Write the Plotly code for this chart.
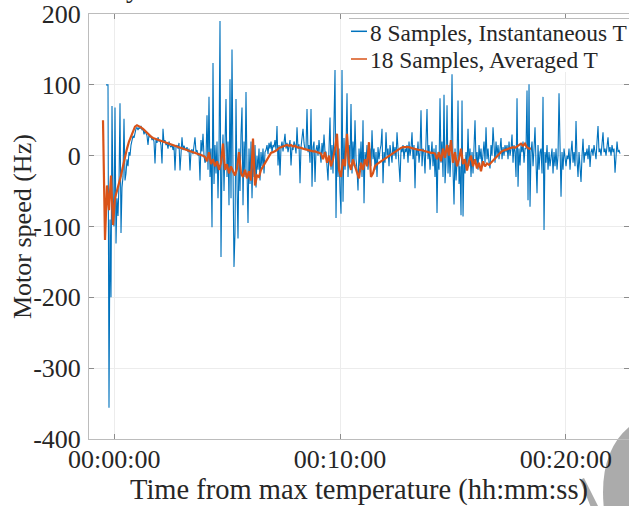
import plotly.graph_objects as go

# ---------------- data ----------------
# time axis in minutes from max temperature
BLUE_START_MIN = -0.3676
BLUE_STEP_MIN = 0.04429      # ~2.66 s between samples
blue_speed_hz = [
    100, 100, 100, -356, -90, -200, 70, -60, -100, 68, -124, -60, -85, -40, 74, -109, -45, -30, 52, -35,
    -25, -5, -15, 5, 0, 15, 20, 28, 25, 35, 38, 40, 36, 40, 38, 42, 36, 38, 30, 35,
    32, 28, 15, 30, 26, 28, 22, 25, 20, -11, 24, 18, 26, 20, 22, 15, -11, 38, 18, 22,
    15, 18, 10, 20, 14, 12, 16, 8, 14, -21, 12, 15, 10, 18, -21, 12, 26, 8, 14, 10,
    8, 12, 5, 10, -21, 6, 9, 2, 12, 26, 5, 8, 0, 4, -35, 22, 6, 31, 0, -10,
    -5, 57, -20, 83, -30, 10, -101, 131, -40, 15, -25, 20, -60, 5, 190, -143, -10, 30, -50, 10,
    80, -30, 20, -70, 108, -60, 150, -20, -157, -109, 80, -40, -117, 10, -50, 30, 68, -70, 20, -30,
    90, -20, -95, 10, -40, 20, -60, 5, -30, 15, -45, 0, -20, 10, -35, 5, -15, 10, -25, 5,
    8, 15, 2, 18, 10, 20, 5, 15, 12, 22, 8, 42, -14, 15, -28, 12, 20, 6, 18, 31,
    10, 18, 5, 14, 22, -14, 12, 8, 20, 15, 3, 40, 10, 16, -39, 12, 28, 38, 18, 8,
    10, 66, 5, 15, -10, 66, -44, 12, 20, -37, 8, 15, 0, 22, 5, -10, 18, 2, 30, 5,
    5, -15, -35, 10, 54, -20, 15, -25, 30, 121, -88, 20, -30, 10, -50, -82, 121, -65, 25, -20,
    10, 88, -30, 15, -10, 73, -25, 20, -15, 50, -5, -20, -49, 10, -15, 20, -30, 50, -67, 5,
    -10, 15, -20, 5, 10, -15, 36, -5, 10, -20, 5, -30, 12, -5, 8, 15, 38, -39, 5, -10,
    33, 0, 10, -15, 15, 5, -10, 20, 0, 12, -5, 33, 8, -10, -37, 10, 5, 15, -5, 10,
    5, 15, -10, 20, 0, 10, 33, -5, 15, -46, 10, 0, 20, -10, 5, 64, -15, 10, 5, -25,
    10, 66, -5, 15, -20, 5, 20, -15, 10, -30, 15, -81, 5, -20, 81, -10, 20, -30, 86, -39,
    -10, 71, -25, 15, -30, 5, 115, -20, -69, 10, -35, -10, 78, -40, -15, -84, 78, -86, -5, -25,
    5, -20, 38, -15, 10, -30, 5, -25, 20, 50, -10, 5, -20, 15, -5, 10, -15, 5, 20, -10,
    40, -5, 10, -10, -18, 15, 0, 40, 5, -10, 20, 0, 15, -5, 10, 25, -5, 12, 0, 15,
    5, 15, -5, 20, 0, 10, 30, -10, 15, 5, -30, 81, -44, 10, -14, 15, 5, 20, -10, 10,
    10, 92, -63, 101, -72, 5, 20, -15, 10, 40, -10, -53, 15, -20, 5, 10, -25, 83, -105, 5,
    -10, 15, -20, 5, -15, 0, 10, -25, 5, -15, 10, -20, 0, 88, -10, -58, 5, -20, 10, -10,
    -15, 0, -5, 10, -20, 5, 21, -10, 5, -15, 49, -5, -30, 5, -15, -37, 0, 24, -10, 5,
    0, 10, -5, 15, -16, 5, 10, 0, 15, 5, -5, 20, 42, 5, 10, 0, 15, 33, 5, 10,
    0, 10, 26, 5, 12, 0, 15, 5, 10, -24, 10, 20, 5, 8, 3,
]

ORANGE_START_MIN = -0.5004
ORANGE_STEP_MIN = 0.08857    # ~5.3 s between samples
orange_speed_hz = [
    50, -119, -42, -77, -28, -98, -60, -50, -40, -28,
    -15, 0, 10, 20, 28, 36, 41, 43, 42, 40,
    38, 35, 32, 30, 27, 25, 24, 23, 22, 21,
    20, 20, 18, 17, 16, 15, 14, 13, 12, 11,
    10, 9, 8, 7, 6, 5, 4, 3, 2, 1,
    0, -2, -8, 5, -12, -5, -15, -8, -20, -10,
    17, -20, -12, -25, -15, -22, -28, -18, 5, -25,
    -30, -20, -32, -22, -35, 24, -42, -28, -30, -20,
    -15, -10, -5, 0, 4, 5, 6, 8, 11, 12,
    13, 14, 15, 14, 15, 13, 14, 12, 12, 11,
    10, 9, 8, 8, 7, 6, 6, 5, 5, 3,
    -5, 5, -10, 0, -15, -5, 10, 31, -20, -30,
    -5, -15, 31, -10, -20, -5, -15, -25, -32, -10,
    -20, -5, -15, 19, -30, -25, -15, -12, -10, -9,
    -7, -5, -3, -1, 2, 4, 6, 8, 10, 11,
    12, 12, 13, 12, 11, 10, 10, 9, 8, 8,
    7, 6, 6, 5, 4, 4, 3, -5, 5, -8,
    10, -3, 15, 0, 22, -10, 5, -15, -5, 10,
    -12, -5, -21, -8, 0, -15, -5, -18, -10, -22,
    -8, -15, -11, -13, -10, -6, -3, 0, 3, 5,
    7, 8, 9, 10, 10, 12, 11, 13, 15, 17,
    14, 17, 12, 10, 10,
]

series_names = ["8 Samples, Instantaneous T", "18 Samples, Averaged T"]
series_colors = ["#0072BD", "#D95319"]

x_range_min = [-1.1204, 22.795]
x_tick_minutes = [0, 10, 20]
x_tick_labels = ["00:00:00", "00:10:00", "00:20:00"]
y_range_hz = [-400, 200]
y_tick_values = [-400, -300, -200, -100, 0, 100, 200]
y_tick_labels = ["-400", "-300", "-200", "-100", "0", "100", "200"]
y_axis_title = "Motor speed (Hz)"
x_axis_title = "Time from max temperature (hh:mm:ss)"

blue_t = [BLUE_START_MIN + i * BLUE_STEP_MIN for i in range(len(blue_speed_hz))]
orange_t = [ORANGE_START_MIN + i * ORANGE_STEP_MIN for i in range(len(orange_speed_hz))]

FONT = "Liberation Serif"
TXT = "#262626"

fig = go.Figure()
fig.add_trace(go.Scatter(x=blue_t, y=blue_speed_hz, mode="lines", name=series_names[0],
                         line=dict(color=series_colors[0], width=1.1), showlegend=False))
fig.add_trace(go.Scatter(x=orange_t, y=orange_speed_hz, mode="lines", name=series_names[1],
                         line=dict(color=series_colors[1], width=2.2), showlegend=False))

W, H = 629, 506
L, R, T, B = 89, 0, 14, 67
PW, PH = W - L - R, H - T - B


def px(xp):
    return (xp - L) / PW


def py(yp):
    return (H - B - yp) / PH


axis_common = dict(
    showgrid=True, gridcolor="#ececec", gridwidth=1,
    showline=True, linecolor="#bcbcbc", linewidth=1, mirror="ticks",
    ticks="inside", ticklen=5, tickcolor="#8c8c8c", tickwidth=1,
    zeroline=False, tickfont=dict(family=FONT, size=26, color=TXT),
    automargin=False,
)

fig.update_xaxes(range=x_range_min, tickmode="array", tickvals=x_tick_minutes,
                 ticktext=x_tick_labels, ticklabelstandoff=-3,
                 title=dict(text=x_axis_title,
                            font=dict(family=FONT, size=28.5, color=TXT)),
                 **axis_common)
fig.update_yaxes(range=y_range_hz, tickmode="array", tickvals=y_tick_values,
                 ticktext=y_tick_labels, ticklabelstandoff=2,
                 **axis_common)

shapes = []
annotations = []
# y-axis title, placed as in the reference
annotations.append(dict(xref="paper", yref="paper", x=px(22.5), y=py(226.5), xanchor="center",
                        yanchor="middle", showarrow=False, text=y_axis_title, textangle=-90,
                        font=dict(family=FONT, size=26, color=TXT)))
# legend box (white background with a thin top edge)
shapes.append(dict(type="rect", xref="paper", yref="paper", x0=px(349), x1=1.0,
                   y0=py(72), y1=py(18.5), fillcolor="white", line=dict(width=0), layer="above"))
shapes.append(dict(type="line", xref="paper", yref="paper", x0=px(349), x1=1.0,
                   y0=py(18.5), y1=py(18.5), line=dict(color="#bcbcbc", width=1), layer="above"))
for i, (name, col) in enumerate(zip(series_names, series_colors)):
    ly = [31.3, 59.0][i]
    shapes.append(dict(type="line", xref="paper", yref="paper", x0=px(351), x1=px(367),
                       y0=py(ly), y1=py(ly), line=dict(color=col, width=1.5), layer="above"))
    annotations.append(dict(xref="paper", yref="paper", x=px(368), y=py(ly + 1.5),
                            xanchor="left", yanchor="middle", showarrow=False, text=name,
                            font=dict(family=FONT, size=23.4, color=TXT)))

# title fragment cut off at the top edge
annotations.append(dict(xref="paper", yref="paper", x=px(133), y=py(5), xanchor="center",
                        yanchor="bottom", showarrow=False, text="y",
                        font=dict(family=FONT, size=28, color=TXT)))

# grey watermark arcs at the bottom-right corner
shapes.append(dict(type="path", xref="paper", yref="paper", layer="below",
                   path=f"M {px(629)},{py(427)} Q {px(598)},{py(453)} {px(604)},{py(510)} "
                        f"L {px(632)},{py(510)} Z",
                   fillcolor="#ababab", line=dict(width=0)))
shapes.append(dict(type="path", xref="paper", yref="paper", layer="below",
                   path=f"M {px(580)},{py(480)} L {px(584)},{py(478)} L {px(600)},{py(510)} "
                        f"L {px(592)},{py(510)} Z",
                   fillcolor="#ababab", line=dict(width=0)))

fig.update_layout(width=W, height=H, margin=dict(l=L, r=R, t=T, b=B, pad=0),
                  paper_bgcolor="white", plot_bgcolor="white",
                  shapes=shapes, annotations=annotations,
                  font=dict(family=FONT, color=TXT))

fig.write_html("out.html", config={"displayModeBar": False},
               post_script="document.body.style.margin='0px';document.body.style.overflow='hidden';")
